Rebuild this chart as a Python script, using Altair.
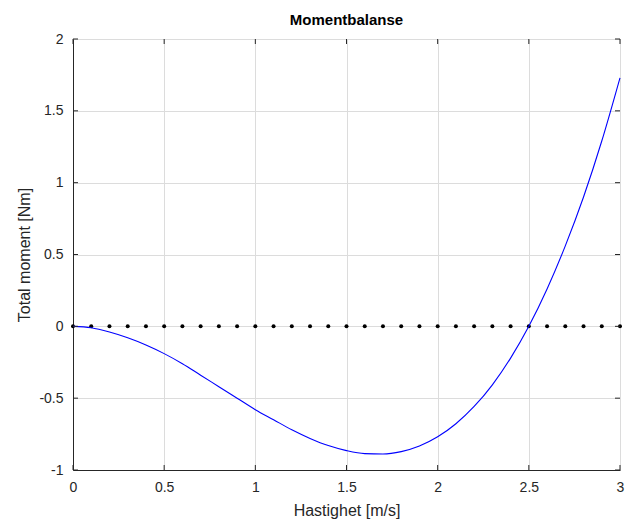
import altair as alt
import pandas as pd

# Speed (m/s) and total moment (Nm)
speed = [round(0.1 * i, 1) for i in range(31)]
moment = [0.00, -0.01, -0.04, -0.08, -0.13, -0.19, -0.26, -0.34, -0.42, -0.50,
          -0.58, -0.65, -0.72, -0.78, -0.83, -0.865, -0.886, -0.889, -0.872, -0.833,
          -0.769, -0.678, -0.558, -0.407, -0.221, 0.00, 0.26, 0.56, 0.90, 1.29, 1.73]
zero_line = [0.0] * 31

x_ticks = [0, 0.5, 1, 1.5, 2, 2.5, 3]
y_ticks = [-1, -0.5, 0, 0.5, 1, 1.5, 2]

W, H = 547, 431
FONT = "Liberation Sans"
AX = "#262626"

df = pd.DataFrame({"v": speed, "m": moment, "z": zero_line})
xt = pd.DataFrame({"t": x_ticks})
yt = pd.DataFrame({"t": y_ticks})

xs = alt.Scale(domain=[0, 3], nice=False, zero=False)
ys = alt.Scale(domain=[-1, 2], nice=False, zero=False)

common = dict(grid=True, gridColor="#dcdcdc", ticks=False, domainColor=AX,
              labelColor=AX, labelFontSize=14, titleFontSize=16, titleColor=AX,
              titleFontWeight="normal", labelFont=FONT, titleFont=FONT,
              labelExpr="datum.value", labelFlush=False, labelOverlap=False)
x_axis = alt.Axis(values=x_ticks, labelPadding=10, titlePadding=8, **common)
y_axis = alt.Axis(values=y_ticks, labelPadding=10, titlePadding=6, **common)

curve = alt.Chart(df).mark_line(color="#0000ff", strokeWidth=1.1, interpolate="monotone").encode(
    x=alt.X("v:Q", scale=xs, axis=x_axis, title="Hastighet [m/s]"),
    y=alt.Y("m:Q", scale=ys, axis=y_axis, title="Total moment [Nm]"),
)

dots = alt.Chart(df).mark_circle(color="black", size=16, opacity=1).encode(
    x=alt.X("v:Q", scale=xs),
    y=alt.Y("z:Q", scale=ys),
)

# inward-pointing tick marks on all four sides
tb = alt.Chart(xt).mark_rule(color=AX, strokeWidth=1).encode(
    x=alt.X("t:Q", scale=xs), y=alt.value(H - 5), y2=alt.value(H))
tt = alt.Chart(xt).mark_rule(color=AX, strokeWidth=1).encode(
    x=alt.X("t:Q", scale=xs), y=alt.value(0), y2=alt.value(5))
tl = alt.Chart(yt).mark_rule(color=AX, strokeWidth=1).encode(
    y=alt.Y("t:Q", scale=ys), x=alt.value(0), x2=alt.value(5))
tr = alt.Chart(yt).mark_rule(color=AX, strokeWidth=1).encode(
    y=alt.Y("t:Q", scale=ys), x=alt.value(W - 5), x2=alt.value(W))

chart = alt.layer(dots, curve, tb, tt, tl, tr).properties(
    width=W, height=H,
    title=alt.TitleParams("Momentbalanse", font=FONT, fontSize=15, fontWeight="bold",
                          color="black", offset=4),
    autosize=alt.AutoSizeParams(type="none"),
    padding={"left": 73, "top": 39, "right": 6, "bottom": 55},
).configure_view(stroke=AX, strokeWidth=1).configure(background="white")

chart.save("out.html", embed_options={"renderer": "svg", "actions": False})
